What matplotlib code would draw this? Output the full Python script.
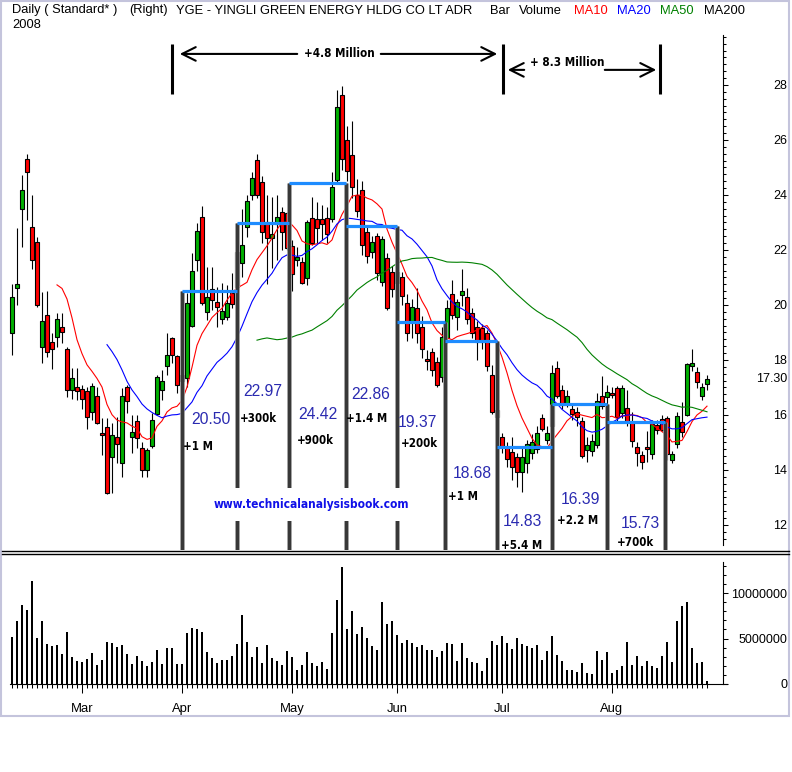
import numpy as np
import pandas as pd
import matplotlib
matplotlib.use('Agg')
import matplotlib.pyplot as plt
from matplotlib import font_manager
from matplotlib.lines import Line2D
from matplotlib.patches import Rectangle
from matplotlib.ticker import FuncFormatter, FixedLocator

# trading days Feb 11 - Aug 28 2008 (market holidays removed)
holidays = ['2008-02-18', '2008-03-21', '2008-05-26', '2008-07-04']
dates = pd.bdate_range('2008-02-11', '2008-08-28')
dates = dates[~dates.isin(pd.to_datetime(holidays))]

opens = [18.98, 20.62, 23.49, 25.31, 22.84, 22.29, 18.47, 19.64, 18.65, 18.84,
         19.20, 18.40, 16.91, 17.00, 16.95, 16.87, 16.11, 16.69, 15.35, 15.56,
         14.47, 15.20, 14.25, 17.02, 15.20, 15.78, 14.80, 14.00, 14.87, 16.04,
         16.91, 17.78, 18.80, 18.15, 17.25, 17.35, 19.24, 21.64, 23.20, 19.75,
         20.58, 20.11, 19.49, 19.56, 20.44, 20.65, 21.53, 22.84, 24.00, 25.27,
         24.47, 23.02, 22.44, 22.95, 23.38, 23.35, 22.15, 21.64, 21.56, 20.98,
         23.16, 23.13, 23.13, 23.16, 23.13, 24.55, 27.64, 26.00, 25.45, 24.00,
         24.18, 22.65, 21.93, 22.51, 20.84, 21.71, 21.20, 21.20, 21.00, 20.07,
         19.40, 19.90, 19.20, 18.05, 18.29, 17.93, 17.38, 18.80, 20.40, 19.56,
         20.36, 20.29, 19.71, 19.20, 19.16, 18.98, 17.45, 16.18, 15.20, 14.84,
         14.65, 14.47, 13.93, 14.25, 14.60, 14.76, 15.89, 15.09, 15.60, 17.71,
         16.91, 16.40, 16.22, 16.10, 15.78, 14.73, 14.69, 14.91, 16.69, 16.65,
         16.80, 16.98, 16.07, 16.25, 15.75, 14.84, 14.55, 14.84, 14.58, 15.64,
         15.85, 15.89, 14.36, 14.95, 15.75, 16.00, 17.78, 17.56, 16.69, 17.13]
highs = [20.76, 22.80, 24.73, 25.49, 24.00, 22.47, 20.47, 20.51, 18.98, 19.71,
         19.71, 18.47, 17.71, 17.71, 17.09, 17.02, 17.16, 17.02, 15.89, 15.89,
         15.71, 15.93, 16.98, 17.09, 16.00, 16.00, 15.02, 14.80, 16.07, 17.45,
         17.64, 18.98, 18.84, 18.18, 17.70, 20.44, 21.89, 22.98, 23.60, 21.38,
         21.38, 20.65, 20.80, 20.73, 21.16, 22.36, 23.49, 24.00, 24.84, 25.49,
         24.70, 24.00, 23.93, 24.00, 23.56, 23.38, 22.36, 22.10, 21.75, 23.09,
         23.93, 23.75, 23.64, 23.56, 24.84, 27.82, 27.96, 26.50, 26.70, 24.58,
         24.50, 22.84, 22.50, 22.60, 22.50, 21.90, 21.40, 21.40, 21.20, 20.40,
         20.20, 20.62, 19.60, 18.36, 18.45, 18.10, 19.20, 20.18, 20.90, 20.20,
         21.30, 20.60, 19.90, 19.40, 19.30, 19.10, 17.80, 16.40, 15.35, 15.00,
         15.20, 14.60, 14.80, 15.10, 15.30, 15.60, 16.04, 15.60, 17.82, 17.96,
         17.10, 16.90, 16.40, 16.30, 15.93, 15.20, 15.30, 16.80, 17.40, 17.10,
         17.00, 17.05, 17.10, 16.91, 16.10, 15.02, 14.69, 15.40, 15.82, 15.80,
         16.00, 15.95, 14.70, 16.10, 16.47, 17.90, 18.40, 17.75, 17.15, 17.45]
lows = [18.18, 20.00, 22.11, 23.09, 21.31, 19.93, 17.89, 18.10, 17.67, 18.47,
        18.62, 16.65, 16.58, 16.55, 16.22, 15.49, 15.82, 15.67, 14.55, 13.13,
        13.16, 14.25, 13.75, 16.07, 14.62, 14.80, 13.75, 13.75, 14.80, 16.00,
        16.55, 17.45, 17.89, 16.80, 17.00, 17.02, 19.20, 21.24, 20.00, 19.45,
        19.82, 19.20, 19.31, 19.45, 19.90, 20.40, 21.00, 22.47, 23.82, 23.89,
        22.25, 20.76, 21.35, 21.64, 22.00, 22.00, 20.51, 21.40, 20.76, 20.73,
        22.18, 22.25, 22.36, 22.25, 23.00, 24.40, 24.90, 24.50, 23.90, 23.20,
        21.80, 21.53, 21.70, 20.90, 20.70, 19.82, 20.30, 20.20, 20.00, 18.70,
        18.80, 18.62, 18.07, 17.64, 17.40, 17.02, 17.20, 18.60, 19.50, 19.10,
        19.96, 19.30, 18.80, 18.00, 18.40, 17.60, 16.05, 15.80, 14.60, 14.11,
        13.64, 13.38, 13.20, 13.90, 14.40, 14.60, 15.40, 14.95, 15.10, 16.60,
        16.20, 16.30, 15.80, 15.60, 14.44, 14.30, 14.50, 14.80, 16.20, 16.40,
        16.60, 15.70, 15.90, 15.60, 14.85, 14.15, 14.04, 14.30, 14.40, 15.30,
        15.40, 14.36, 14.25, 14.80, 15.20, 15.95, 17.60, 16.98, 16.55, 16.90]
closes = [20.29, 20.76, 24.18, 24.84, 21.64, 20.00, 19.42, 18.29, 18.40, 19.49,
          19.00, 16.91, 17.35, 16.87, 16.58, 15.93, 17.05, 15.71, 15.27, 13.16,
          15.27, 14.95, 16.69, 16.51, 15.38, 15.16, 14.00, 14.73, 15.82, 17.38,
          17.24, 18.18, 18.18, 17.09, 17.45, 20.07, 21.24, 22.69, 20.07, 20.29,
          20.18, 19.93, 19.78, 20.07, 20.04, 21.93, 22.18, 23.78, 24.62, 24.00,
          22.65, 22.44, 22.58, 23.20, 22.65, 22.07, 21.13, 21.75, 20.80, 23.02,
          22.25, 22.80, 22.95, 22.58, 24.29, 27.20, 25.31, 24.87, 24.29, 23.42,
          22.18, 21.78, 22.29, 21.16, 22.40, 19.89, 20.58, 20.80, 20.33, 18.98,
          19.93, 18.98, 18.40, 17.98, 17.64, 17.09, 18.84, 19.89, 19.64, 20.10,
          20.51, 19.49, 18.98, 18.65, 18.65, 17.78, 16.11, 15.93, 14.84, 14.40,
          14.11, 13.93, 14.47, 14.95, 15.00, 15.35, 15.49, 15.35, 17.53, 16.69,
          16.36, 16.69, 16.04, 15.93, 14.51, 14.91, 15.05, 16.51, 16.33, 16.84,
          16.73, 15.93, 16.98, 15.75, 15.05, 14.62, 14.29, 14.76, 15.67, 15.45,
          15.45, 14.58, 14.58, 15.96, 15.38, 17.85, 17.89, 17.20, 17.02, 17.30]
# volume in millions of shares
volume_m = [5.16, 6.96, 8.72, 8.17, 11.36, 5.09, 6.96, 4.40, 4.21, 4.32,
            3.33, 5.75, 3.00, 2.56, 2.45, 2.78, 3.44, 2.12, 2.67, 4.65,
            4.54, 4.10, 4.32, 3.33, 2.23, 3.11, 2.56, 2.01, 2.45, 3.77,
            2.23, 3.99, 3.99, 2.23, 2.23, 5.64, 6.19, 6.08, 5.75, 3.55,
            2.89, 2.34, 2.67, 2.67, 3.11, 4.43, 7.62, 4.65, 3.00, 4.10,
            2.34, 4.32, 2.89, 2.56, 2.12, 3.66, 3.00, 1.58, 2.12, 3.55,
            2.34, 2.01, 2.45, 1.68, 5.64, 9.27, 12.89, 6.08, 8.06, 5.53,
            6.30, 5.09, 4.21, 3.77, 9.05, 6.63, 6.96, 5.42, 4.54, 4.87,
            4.54, 4.10, 4.32, 3.77, 3.77, 3.00, 3.66, 4.54, 4.43, 2.56,
            4.54, 2.89, 2.45, 2.34, 1.47, 2.89, 4.76, 4.32, 5.31, 4.54,
            3.88, 5.09, 4.43, 4.21, 3.99, 4.32, 2.67, 3.66, 5.31, 3.22,
            2.56, 1.58, 1.58, 1.36, 2.34, 1.25, 1.14, 3.66, 2.67, 3.55,
            1.25, 1.58, 2.01, 4.65, 2.12, 3.11, 2.01, 2.56, 2.01, 1.79,
            3.11, 4.65, 2.45, 6.96, 8.61, 9.05, 3.99, 2.34, 2.45, 0.37]

# hand drawn study: segment boundaries (trading day index) and levels
split_days = [34, 45, 55.4, 66.8, 77, 86.6, 97, 108, 119, 130.6]
level_values = [20.50, 22.97, 24.42, 22.86, 19.37, 18.68, 14.83, 16.39, 15.73]
gain_labels = ['+1 M', '+300k', '+900k', '+1.4 M', '+200k', '+1 M', '+5.4 M', '+2.2 M', '+700k']
level_label_xy = [(39.8, 15.82), (50.2, 16.87), (61.2, 16.00), (71.8, 16.76), (81.0, 15.71),
                  (92.0, 13.89), (102.0, 12.11), (113.6, 12.91), (125.6, 12.04)]
gain_label_xy = [(37.2, 14.84), (49.2, 15.89), (60.6, 15.09), (71.0, 15.89), (81.4, 14.95),
                 (90.2, 13.05), (102.0, 11.27), (113.2, 12.15), (124.6, 11.35)]

header_items = [('Daily ( Standard* )', 12, 'black'), ('(Right)', 129, 'black'),
                ('YGE - YINGLI GREEN ENERGY HLDG CO LT ADR', 176, 'black'),
                ('Bar', 490, 'black'), ('Volume', 519, 'black'), ('MA10', 574, '#ff0000'),
                ('MA20', 617, '#0000ff'), ('MA50', 660, '#008000'), ('MA200', 704, 'black')]

plt.rcParams['font.family'] = ['Liberation Sans', 'DejaVu Sans']
names = {f.name for f in font_manager.fontManager.ttflist}
if 'Liberation Sans Narrow' in names:
    num_font = dict(family='Liberation Sans Narrow', fontsize=13)
    bold_font = dict(family='Liberation Sans Narrow', fontweight='bold', fontsize=10)
    big_font = dict(family='Liberation Sans Narrow', fontweight='bold', fontsize=10.5)
    mark_font = dict(family='Liberation Sans Narrow', fontweight='bold', fontsize=11.5)
else:
    num_font = dict(family='Liberation Sans', fontsize=11.3)
    bold_font = dict(family='DejaVu Sans', fontweight='bold', fontsize=8.3, fontstretch='condensed')
    big_font = dict(family='DejaVu Sans', fontweight='bold', fontsize=8.4, fontstretch='condensed')
    mark_font = dict(family='DejaVu Sans', fontweight='bold', fontsize=8.6, fontstretch='condensed')

W, H = 792, 772
fig = plt.figure(figsize=(W / 100, H / 100), dpi=100)


def px_box(x0, y0, x1, y1):
    return [x0 / W, 1 - y1 / H, (x1 - x0) / W, (y1 - y0) / H]


ax = fig.add_axes(px_box(0, 30, 723, 550))
vax = fig.add_axes(px_box(0, 557, 723, 684))

x = np.arange(len(dates))
o, h, l, c = map(np.array, (opens, highs, lows, closes))
up = c >= o

ymin, ymax = 11.09, 30.0
for a in (ax, vax):
    a.set_xlim(-2.4, 142.2)
    for s in ('top', 'left'):
        a.spines[s].set_visible(False)
ax.set_ylim(ymin, ymax)
ax.spines['bottom'].set_visible(False)

# candles
ax.vlines(x, l, h, color='black', lw=0.8, zorder=2)
ax.bar(x, np.maximum(np.abs(c - o), 0.05), bottom=np.minimum(o, c), width=0.82,
       color=np.where(up, '#00b000', '#ff0000'), edgecolor='black', linewidth=0.8, zorder=3)

close_s = pd.Series(closes)
ax.plot(x, close_s.rolling(10).mean(), color='#ff0000', lw=0.8, zorder=4)
ax.plot(x, close_s.rolling(20).mean(), color='#0000ff', lw=0.8, zorder=4)
ax.plot(x, close_s.rolling(50).mean(), color='#008000', lw=0.8, zorder=4)

# study lines
tops = []
for i, d in enumerate(split_days):
    nb = [level_values[k] for k in (i - 1, i) if 0 <= k < len(level_values)]
    tops.append(max(nb))
ax.vlines(split_days, ymin, tops, colors='#9a9a9a', lw=3.4, zorder=5)
ax.vlines(split_days, ymin, tops, colors='#383838', lw=2.2, zorder=5)
ax.hlines(level_values, split_days[:-1], split_days[1:], colors='#1e8cff', lw=2.3, zorder=6)
for v, (tx, ty) in zip(level_values, level_label_xy):
    ax.text(tx, ty, f'{v:.2f}', color='#2a2ab0', ha='center', va='center', zorder=7, **num_font)
for s, (tx, ty) in zip(gain_labels, gain_label_xy):
    ax.text(tx, ty, s, color='black', ha='center', va='center', zorder=7, clip_on=False, **bold_font)

ax.text(59.8, 12.74, 'www.technicalanalysisbook.com', color='#1010e8', ha='center', va='center',
        zorder=8, bbox=dict(boxstyle='square,pad=0.85', fc='white', ec='none'), **mark_font)

# volume brackets at the top
ax.vlines([32, 98.2, 129.6], 27.67, 29.49, colors='black', lw=2.2, zorder=6)
arr = dict(arrowstyle='->,head_length=0.7,head_width=0.35', lw=1.5, color='black', mutation_scale=14)
ax.annotate('', xy=(33, 29.13), xytext=(57.6, 29.13), arrowprops=arr)
ax.annotate('', xy=(97.6, 29.13), xytext=(73.2, 29.13), arrowprops=arr)
ax.text(65.4, 29.13, '+4.8 Million', ha='center', va='center', zorder=8,
        bbox=dict(boxstyle='square,pad=0.2', fc='white', ec='none'), **big_font)
ax.annotate('', xy=(98.6, 28.55), xytext=(103.0, 28.55), arrowprops=arr)
ax.annotate('', xy=(129.4, 28.55), xytext=(118.0, 28.55), arrowprops=arr)
ax.text(111.0, 28.8, '+ 8.3 Million', ha='center', va='center', zorder=8, **big_font)

# price axis on the right
ax.yaxis.tick_right()
ax.set_xticks([])
ax.set_yticks(np.arange(12, 29, 2))
ax.yaxis.set_minor_locator(FixedLocator(np.arange(11.5, 29.9, 0.25)))
ax.tick_params(axis='y', which='major', direction='out', length=3.6, width=0.75,
               pad=42.5, labelsize=9)
ax.tick_params(axis='y', which='minor', direction='out', length=1.8, width=0.75)
for lab in ax.get_yticklabels():
    lab.set_horizontalalignment('right')
ax.spines['right'].set_bounds(11.27, 29.82)
ax.spines['right'].set_linewidth(0.8)
ax.text(787 / 723, closes[-1], f'{closes[-1]:.2f}', transform=ax.get_yaxis_transform(),
        ha='right', va='center', fontsize=9)

# volume
vol = np.array(volume_m) * 1e6
vax.bar(x, vol, width=0.56, color='black', zorder=3)
vax.set_ylim(0, 13.96e6)
vax.yaxis.tick_right()
vax.set_yticks([0, 5e6, 10e6])
vax.yaxis.set_minor_locator(FixedLocator(np.arange(0, 13.5e6, 1e6)))
vax.yaxis.set_major_formatter(FuncFormatter(lambda v, _: f'{v:.0f}'))
vax.tick_params(axis='y', which='major', direction='out', length=3.6, width=0.75,
                pad=42.5, labelsize=9)
vax.tick_params(axis='y', which='minor', direction='out', length=1.8, width=0.75)
for lab in vax.get_yticklabels():
    lab.set_horizontalalignment('right')
vax.spines['right'].set_bounds(0, 13.4e6)
vax.spines['right'].set_linewidth(0.8)
vax.spines['bottom'].set_bounds(-0.4, 143)
vax.spines['bottom'].set_linewidth(0.8)

month_first = [i for i in range(1, len(dates)) if dates[i].month != dates[i - 1].month]
vax.set_xticks(month_first)
vax.set_xticklabels([dates[i].strftime('%b') for i in month_first])
vax.set_xticks(x, minor=True)
vax.tick_params(axis='x', which='major', direction='out', length=6.5, width=0.75,
                pad=7, labelsize=9.4)
vax.tick_params(axis='x', which='minor', direction='out', length=2.9, width=0.75)

# header
for txt, px, col in header_items:
    fig.text(px / W, 1 - 10.5 / H, txt, color=col, fontsize=9.3, va='center', ha='left')
fig.text(12 / W, 1 - 24.5 / H, '2008', fontsize=9.3, va='center', ha='left')

# panel separator and outer frame
for yy in (551, 554):
    fig.add_artist(Line2D([2 / W, 789 / W], [1 - yy / H] * 2, color='black', lw=1.0))
fig.add_artist(Rectangle((1 / W, 1 - 716 / H), 788 / W, 715 / H, transform=fig.transFigure,
                         fill=False, ec='#c4c4dc', lw=1.5))

fig.savefig('out.png', dpi=100)
